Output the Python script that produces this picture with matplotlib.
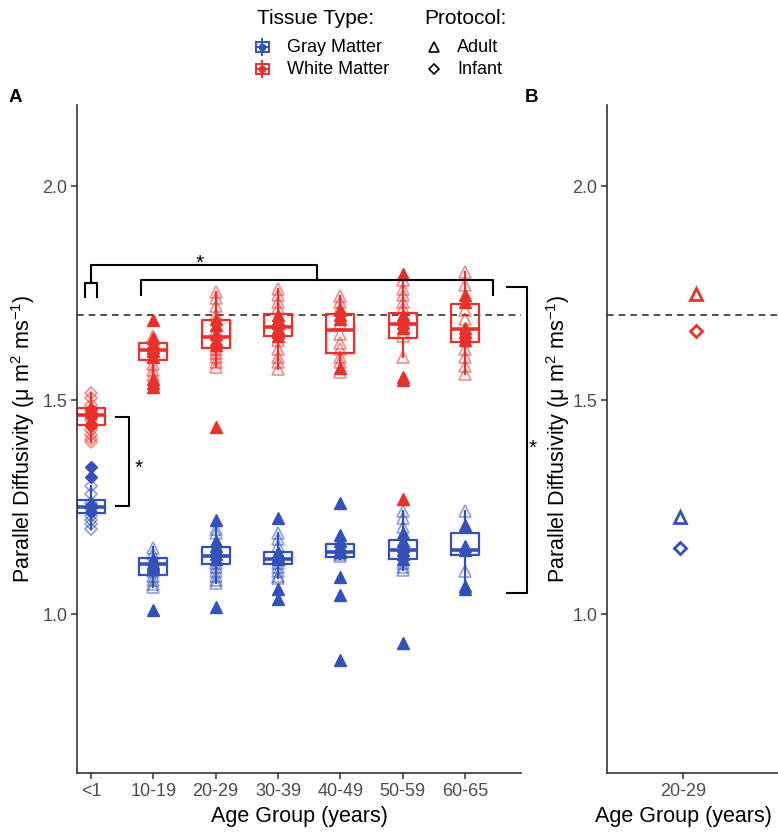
import numpy as np
import matplotlib.pyplot as plt
from matplotlib.patches import Rectangle

plt.rcParams['font.family'] = ['Liberation Sans', 'DejaVu Sans']
plt.rcParams['mathtext.fontset'] = 'custom'
plt.rcParams['mathtext.rm'] = 'Liberation Sans'
plt.rcParams['mathtext.it'] = 'Liberation Sans:italic'
plt.rcParams['mathtext.default'] = 'regular'

age_groups = ['<1', '10-19', '20-29', '30-39', '40-49', '50-59', '60-65']

# white matter box stats per age group
wm_q1 = [1.442, 1.595, 1.621, 1.650, 1.611, 1.646, 1.637]
wm_med = [1.465, 1.618, 1.647, 1.671, 1.665, 1.678, 1.666]
wm_q3 = [1.481, 1.633, 1.687, 1.702, 1.702, 1.705, 1.726]
wm_lo = [1.402, 1.528, 1.578, 1.574, 1.566, 1.601, 1.562]
wm_hi = [1.516, 1.652, 1.753, 1.761, 1.743, 1.794, 1.800]

# gray matter box stats per age group
gm_q1 = [1.236, 1.091, 1.117, 1.117, 1.134, 1.130, 1.138]
gm_med = [1.250, 1.118, 1.136, 1.130, 1.146, 1.150, 1.150]
gm_q3 = [1.266, 1.132, 1.157, 1.146, 1.164, 1.173, 1.191]
gm_lo = [1.200, 1.064, 1.074, 1.084, 1.130, 1.103, 1.056]
gm_hi = [1.300, 1.157, 1.221, 1.189, 1.185, 1.241, 1.241]

# individual subjects (open / filled markers)
wm_open = [
    [1.516, 1.505, 1.49, 1.475, 1.455, 1.43, 1.42, 1.41, 1.402],
    [1.65, 1.62, 1.60, 1.585, 1.57, 1.56],
    [1.753, 1.74, 1.72, 1.70, 1.665, 1.62, 1.61, 1.60, 1.59, 1.578],
    [1.761, 1.745, 1.73, 1.715, 1.64, 1.62, 1.60, 1.59, 1.574],
    [1.743, 1.73, 1.715, 1.68, 1.655, 1.635, 1.62, 1.60, 1.59, 1.566],
    [1.78, 1.76, 1.745, 1.73, 1.715, 1.66, 1.65, 1.601],
    [1.80, 1.77, 1.71, 1.69, 1.62, 1.60, 1.58, 1.562],
]
wm_filled = [
    [1.48, 1.47, 1.46, 1.445, 1.44],
    [1.687, 1.645, 1.635, 1.625, 1.615, 1.60, 1.55, 1.54, 1.53],
    [1.69, 1.675, 1.655, 1.64, 1.63, 1.438],
    [1.70, 1.69, 1.68, 1.67, 1.66, 1.65],
    [1.71, 1.70, 1.69, 1.575],
    [1.794, 1.70, 1.69, 1.68, 1.67, 1.555, 1.548, 1.27],
    [1.745, 1.73, 1.67, 1.66, 1.65, 1.64],
]
gm_open = [
    [1.30, 1.28, 1.26, 1.245, 1.23, 1.22, 1.21, 1.20],
    [1.155, 1.14, 1.10, 1.09, 1.08, 1.07, 1.064],
    [1.20, 1.19, 1.12, 1.11, 1.10, 1.09, 1.08, 1.074],
    [1.189, 1.175, 1.16, 1.12, 1.11, 1.10, 1.09, 1.084],
    [1.14, 1.135],
    [1.241, 1.225, 1.205, 1.12, 1.11, 1.103],
    [1.241, 1.10],
]
gm_filled = [
    [1.345, 1.32, 1.255, 1.25, 1.24],
    [1.13, 1.12, 1.115, 1.11, 1.009],
    [1.221, 1.17, 1.16, 1.15, 1.14, 1.13, 1.016],
    [1.225, 1.145, 1.135, 1.13, 1.06, 1.035],
    [1.259, 1.185, 1.17, 1.16, 1.15, 1.145, 1.088, 1.044, 0.893],
    [1.19, 1.17, 1.16, 1.15, 1.14, 1.13, 0.932],
    [1.208, 1.16, 1.15, 1.065, 1.058],
]

# panel B: 20-29 single subject, adult / infant protocol
b_group = ['20-29']
b_wm = [1.748, 1.662]
b_gm = [1.227, 1.154]

blue = '#3451BA'
red = '#E8302D'
axis_col = '#333333'
tick_col = '#4D4D4D'

fig = plt.figure(figsize=(7.78, 8.38), dpi=100)
axA = fig.add_axes([77 / 778, 65 / 838, 444 / 778, 668 / 838])
axB = fig.add_axes([607 / 778, 65 / 838, 171 / 778, 668 / 838])

pos = np.arange(1, len(age_groups) + 1)


def draw_tissue(ax, q1, med, q3, lo, hi, op, fp, color):
    stats = [dict(q1=a, med=b, q3=c, whislo=d, whishi=e)
             for a, b, c, d, e in zip(q1, med, q3, lo, hi)]
    ax.bxp(stats, positions=pos, widths=0.45, showcaps=False, showfliers=False,
           manage_ticks=False,
           boxprops=dict(color=color, lw=1.6),
           whiskerprops=dict(color=color, lw=1.6),
           medianprops=dict(color=color, lw=2.6), zorder=2)
    for i in range(len(pos)):
        m, ms = ('D', 6) if i == 0 else ('^', 8)
        ax.plot(np.full(len(op[i]), pos[i]), op[i], ls='none', marker=m, ms=ms,
                mfc='none', mec=color, mew=1.2, alpha=0.55, zorder=3)
        ax.plot(np.full(len(fp[i]), pos[i]), fp[i], ls='none', marker=m, ms=ms,
                color=color, mec=color, zorder=3)


draw_tissue(axA, gm_q1, gm_med, gm_q3, gm_lo, gm_hi, gm_open, gm_filled, blue)
draw_tissue(axA, wm_q1, wm_med, wm_q3, wm_lo, wm_hi, wm_open, wm_filled, red)

# significance brackets
brk = dict(color='black', lw=1.5, clip_on=False, zorder=4)
axA.plot([0.9, 0.9, 1.1, 1.1], [1.741, 1.773, 1.773, 1.741], **brk)
axA.plot([1.8, 1.8, 7.45, 7.45], [1.745, 1.782, 1.782, 1.745], **brk)
axA.plot([1.0, 1.0, 4.625, 4.625], [1.773, 1.815, 1.815, 1.782], **brk)
axA.plot([1.40, 1.615, 1.615, 1.40], [1.460, 1.460, 1.252, 1.252], **brk)
axA.plot([7.68, 8.0, 8.0, 7.68], [1.765, 1.765, 1.050, 1.050], **brk)
star = dict(ha='center', va='baseline', fontsize=15, clip_on=False)
axA.text(2.75, 1.806, '*', **star)
axA.text(1.77, 1.329, '*', **star)
axA.text(8.09, 1.374, '*', **star)

# panel B
for x, vals, color in [(0.98, b_gm, blue), (1.10, b_wm, red)]:
    axB.plot([x], [vals[0]], ls='none', marker='^', ms=8, mfc='none', mec=color, mew=2)
    axB.plot([x], [vals[1]], ls='none', marker='D', ms=6, mfc='none', mec=color, mew=2)

ylabel = 'Parallel Diffusivity (μ m$^{2}$ ms$^{-1}$)'
for ax, labels, xl in [(axA, age_groups, (0.775, 7.9)), (axB, b_group, (0.4, 1.75))]:
    ax.axhline(1.7, color=axis_col, lw=1.2, ls=(0, (4, 3)), zorder=1)
    ax.set_xlim(*xl)
    ax.set_ylim(0.629, 2.19)
    ax.set_xticks(np.arange(1, len(labels) + 1))
    ax.set_xticklabels(labels)
    ax.set_yticks([1.0, 1.5, 2.0])
    ax.set_yticklabels(['1.0', '1.5', '2.0'])
    for s in ['top', 'right']:
        ax.spines[s].set_visible(False)
    for s in ['left', 'bottom']:
        ax.spines[s].set_color(axis_col)
        ax.spines[s].set_linewidth(1.2)
    ax.tick_params(length=4, width=1.1, color=axis_col, labelcolor=tick_col,
                   labelsize=13, pad=3)
    ax.set_xlabel('Age Group (years)', fontsize=15.5)
    ax.set_ylabel(ylabel, fontsize=15.5)
    ax.set_facecolor('none')

axA.yaxis.set_label_coords(-0.090, 0.5)
axB.yaxis.set_label_coords(-0.205, 0.5)
axA.xaxis.set_label_coords(0.5, -0.049)
axB.xaxis.set_label_coords(0.445, -0.049)

# legend and panel letters on an overlay in pixel units
lg = fig.add_axes([0, 0, 1, 1], zorder=10)
lg.set_xlim(0, 778)
lg.set_ylim(838, 0)
lg.axis('off')

lg.text(257, 18, 'Tissue Type:', fontsize=15, va='center', ha='left')
lg.text(424, 18, 'Protocol:', fontsize=15, va='center', ha='left')
for yk, color, name in [(47, blue, 'Gray Matter'), (69, red, 'White Matter')]:
    lg.add_patch(Rectangle((256, yk - 5), 13, 10, fill=False, ec=color, lw=1.4))
    lg.plot([262.5, 262.5], [yk - 8, yk + 8], color=color, lw=1.4)
    lg.plot([256, 269], [yk, yk], color=color, lw=1.4)
    lg.plot([262.5], [yk], marker='o', ms=4.5, color=color)
    lg.text(287, yk, name, fontsize=13, va='center', ha='left')
lg.plot([434], [47], marker='^', ms=7, mfc='none', mec='black', mew=1.2)
lg.text(457, 47, 'Adult', fontsize=13, va='center', ha='left')
lg.plot([434], [69], marker='D', ms=5.5, mfc='none', mec='black', mew=1.2)
lg.text(457, 69, 'Infant', fontsize=13, va='center', ha='left')

lg.text(15, 97, 'A', fontsize=13.5, fontweight='bold', ha='center', va='center')
lg.text(532, 97, 'B', fontsize=13.5, fontweight='bold', ha='center', va='center')

fig.savefig('out.png', dpi=100, facecolor='white')
